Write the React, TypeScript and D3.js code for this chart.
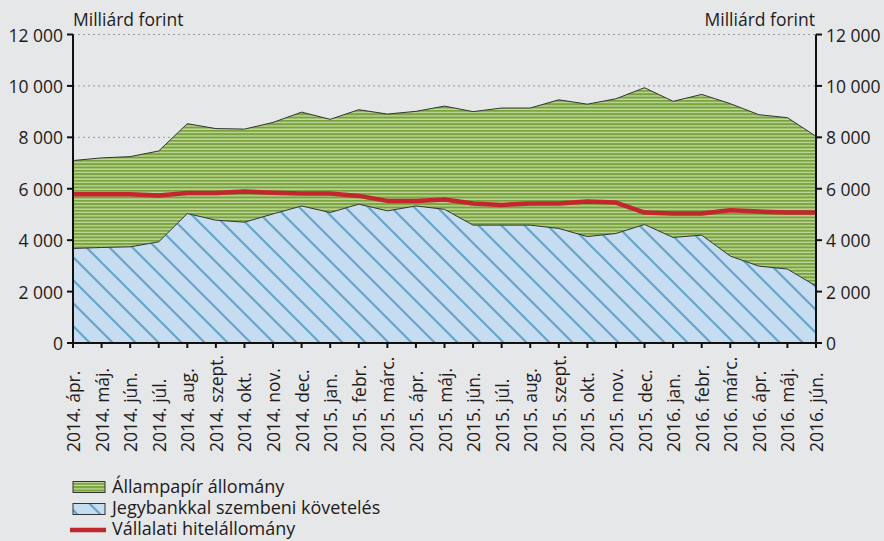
import React from "react";
import * as d3 from "d3";

const categories = [
  "2014. ápr.", "2014. máj.", "2014. jún.", "2014. júl.", "2014. aug.", "2014. szept.",
  "2014. okt.", "2014. nov.", "2014. dec.", "2015. jan.", "2015. febr.", "2015. márc.",
  "2015. ápr.", "2015. máj.", "2015. jún.", "2015. júl.", "2015. aug.", "2015. szept.",
  "2015. okt.", "2015. nov.", "2015. dec.", "2016. jan.", "2016. febr.", "2016. márc.",
  "2016. ápr.", "2016. máj.", "2016. jún.",
];

const jegybank = [
  3677, 3715, 3740, 3934, 5036, 4777, 4699, 5020, 5330, 5075, 5400, 5140, 5330, 5200,
  4585, 4585, 4585, 4455, 4140, 4260, 4610, 4105, 4195, 3380, 2990, 2875, 2215,
];

const allampapir = [
  3420, 3485, 3510, 3535, 3495, 3563, 3621, 3560, 3650, 3625, 3675, 3765, 3680, 4015,
  4415, 4555, 4555, 5005, 5150, 5240, 5320, 5295, 5475, 5930, 5890, 5890, 5825,
];

const hitel = [
  5786, 5786, 5786, 5735, 5838, 5838, 5890, 5840, 5813, 5813, 5722, 5528, 5528, 5579,
  5424, 5372, 5424, 5424, 5500, 5462, 5075, 5036, 5036, 5165, 5113, 5075, 5075,
];

const yTicks = [0, 2000, 4000, 6000, 8000, 10000, 12000];
const unitLabel = "Milliárd forint";
const legendLabels = ["Állampapír állomány", "Jegybankkal szembeni követelés", "Vállalati hitelállomány"];

const W = 884;
const H = 541;
const left = 73;
const right = 816;
const top = 34.5;
const bottom = 343;
const FONT = "'Open Sans', sans-serif";
const TXT = "#1e1b1c";

export default function App() {
  const x = d3.scalePoint<string>().domain(categories).range([left, right]);
  const y = d3.scaleLinear().domain([0, 12000]).range([bottom, top]);
  const fmt = (v: number) => d3.format(",")(v).replace(/,/g, " ");

  const rows = categories.map((c, i) => ({ c, jb: jegybank[i], ap: allampapir[i] }));
  const stack = d3.stack<any>().keys(["jb", "ap"])(rows);

  const area = d3
    .area<any>()
    .x((d) => x(d.data.c) as number)
    .y0((d) => y(d[0]))
    .y1((d) => y(d[1]));
  const topLine = d3
    .line<any>()
    .x((d) => x(d.data.c) as number)
    .y((d) => y(d[1]));
  const redLine = d3
    .line<number>()
    .x((_, i) => x(categories[i]) as number)
    .y((d) => y(d));

  return (
    <svg width={W} height={H} style={{ position: "absolute", left: 0, top: 0 }} fontFamily={FONT}>
      <defs>
        <pattern id="green" patternUnits="userSpaceOnUse" width={10} height={3.33}>
          <rect width={10} height={3.33} fill="#c4daa2" />
          <rect width={10} height={2} fill="#78a33c" />
        </pattern>
        <pattern id="blue" patternUnits="userSpaceOnUse" width={23} height={23}>
          <rect width={23} height={23} fill="#c6dcf0" />
          <path d="M0,0 L23,23 M-6,17 L6,29 M17,-6 L29,6" stroke="#66a5ca" strokeWidth={2.2} />
        </pattern>
      </defs>
      <rect width={W} height={H} fill="#e6e7e9" />

      {yTicks.filter((t) => t > 0).map((t) => (
        <line key={t} x1={left} x2={right} y1={y(t)} y2={y(t)} stroke="#9a9a9a" strokeWidth={1} strokeDasharray="2,3" />
      ))}

      <path d={area(stack[1] as any) || ""} fill="url(#green)" />
      <path d={area(stack[0] as any) || ""} fill="url(#blue)" />
      <path d={topLine(stack[1] as any) || ""} fill="none" stroke="#333" strokeWidth={1} />
      <path d={topLine(stack[0] as any) || ""} fill="none" stroke="#333" strokeWidth={1} />
      <path d={redLine(hitel) || ""} fill="none" stroke="#c1272d" strokeWidth={4.5} strokeLinejoin="round" />

      {/* axes */}
      <line x1={left} x2={left} y1={top} y2={bottom + 1} stroke="#111" strokeWidth={2} />
      <line x1={right} x2={right} y1={top} y2={bottom + 1} stroke="#111" strokeWidth={2} />
      <line x1={left - 6} x2={right + 6} y1={bottom} y2={bottom} stroke="#111" strokeWidth={2} />
      {yTicks.map((t) => (
        <g key={t}>
          <line x1={left - 6} x2={left} y1={y(t)} y2={y(t)} stroke="#111" strokeWidth={2} />
          <line x1={right} x2={right + 6} y1={y(t)} y2={y(t)} stroke="#111" strokeWidth={2} />
          <text x={63} y={y(t)} textAnchor="end" dominantBaseline="central" fontSize={17.5} fill={TXT}>
            {fmt(t)}
          </text>
          <text x={826} y={y(t)} textAnchor="start" dominantBaseline="central" fontSize={17.5} fill={TXT}>
            {fmt(t)}
          </text>
        </g>
      ))}
      {categories.map((c) => (
        <g key={c}>
          <line x1={x(c)} x2={x(c)} y1={bottom} y2={bottom + 5} stroke="#111" strokeWidth={2} />
          <text
            transform={`translate(${x(c)},452) rotate(-90)`}
            textAnchor="start"
            dominantBaseline="central"
            fontSize={17.5}
            fill={TXT}
          >
            {c}
          </text>
        </g>
      ))}
      <text x={73} y={19} dominantBaseline="central" fontSize={17.5} fill={TXT}>{unitLabel}</text>
      <text x={815} y={19} textAnchor="end" dominantBaseline="central" fontSize={17.5} fill={TXT}>{unitLabel}</text>

      {/* legend */}
      <rect x={73} y={481.5} width={32} height={11} fill="url(#green)" stroke="#333" strokeWidth={1} />
      <rect x={73} y={503.5} width={32} height={11} fill="url(#blue)" stroke="#333" strokeWidth={1} />
      <line x1={70} x2={106} y1={530} y2={530} stroke="#c1272d" strokeWidth={4.5} />
      {legendLabels.map((l, i) => (
        <text key={l} x={112} y={486 + i * 21} dominantBaseline="central" fontSize={18} fill={TXT}>{l}</text>
      ))}
    </svg>
  );
}
